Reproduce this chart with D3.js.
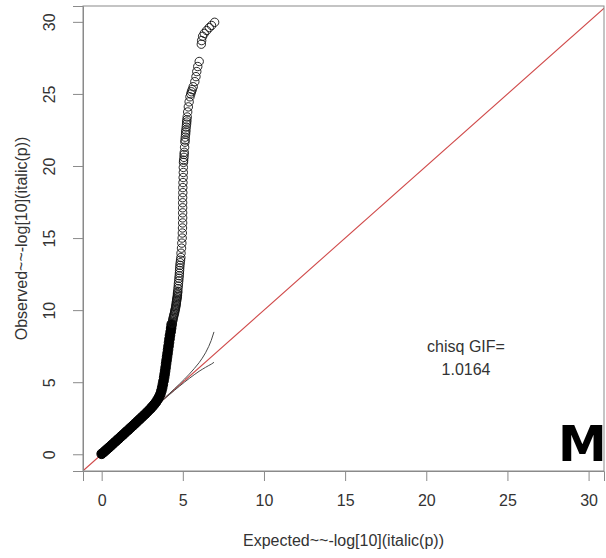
<!DOCTYPE html>
<html><head><meta charset="utf-8">
<script src="https://cdn.jsdelivr.net/npm/d3@7/dist/d3.min.js"></script>
<style>html,body{margin:0;padding:0;background:#fff;}svg{display:block;}</style>
</head><body>
<svg id="chart" width="606" height="558"></svg>
<script>
// ---------- data ----------
const xTicks = [0, 5, 10, 15, 20, 25, 30];
const yTicks = [0, 5, 10, 15, 20, 25, 30];
const xTitle = "Expected~~-log[10](italic(p))";
const yTitle = "Observed~~-log[10](italic(p))";
const gifLabel = ["chisq GIF=", "1.0164"];
const panelLetter = "M";

// dense bulk of points (overlapping circles rendered as a solid band)
const bulkExp = [0.00,0.15,0.30,0.45,0.60,0.75,0.90,1.05,1.20,1.35,1.50,1.65,1.80,1.95,2.10,2.25,2.40,2.55,2.70,2.85,3.00,
  3.12,3.24,3.35,3.45,3.54,3.62,3.68,3.73,3.77,3.81,3.85,3.88,3.91,3.94,3.97,4.00,4.03,4.06,4.09,4.12,4.15,4.18,4.21,4.25,4.28,4.31];
const bulkObs = [0.03,0.17,0.32,0.47,0.62,0.78,0.93,1.08,1.24,1.39,1.55,1.70,1.86,2.01,2.17,2.33,2.49,2.65,2.81,2.98,3.15,
  3.30,3.46,3.62,3.80,3.98,4.18,4.40,4.62,4.85,5.08,5.32,5.55,5.78,6.02,6.28,6.52,6.76,7.00,7.25,7.50,7.75,8.00,8.25,8.50,8.75,9.00];

// tail points (open circles)
const tailExp = [4.33,4.35,4.37,4.39,4.40,4.42,4.44,4.46,4.48,4.50,4.51,4.53,4.55,4.56,4.58,4.59,4.60,4.61,4.62,4.63,4.65,4.66,4.67,4.67,4.68,4.69,4.70,
  4.72,4.73,4.75,4.76,4.78,4.79,4.80,4.81,4.82,4.84,4.86,4.88,
  4.89,4.92,4.94,4.96,4.97,4.98,4.99,4.99,4.99,4.99,4.99,4.99,5.00,5.00,5.01,5.02,5.03,5.03,5.04,5.05,5.07,5.08,5.09,5.11,5.13,5.14,5.15,5.17,5.18,5.19,5.21,5.23,5.24,5.25,5.27,5.30,5.34,5.39,5.44,5.49,5.53,5.58,5.64,5.74,5.81,5.86,5.92,6.01,
  6.14,6.16,6.22,6.32,6.47,6.63,6.77,6.96];
const tailObs = [9.08,9.15,9.24,9.33,9.42,9.51,9.60,9.69,9.78,9.87,9.96,10.05,10.14,10.23,10.32,10.41,10.50,10.59,10.68,10.77,10.86,10.95,11.04,11.13,11.22,11.31,11.49,
  11.67,11.85,12.03,12.21,12.39,12.57,12.75,12.93,13.11,13.29,13.47,13.65,
  13.95,14.30,14.65,15.00,15.35,15.70,16.05,16.40,16.75,17.10,17.45,17.80,18.15,18.50,18.85,19.20,19.55,19.90,20.25,20.40,20.60,20.80,20.95,21.30,21.65,21.80,22.00,22.20,22.35,22.50,22.70,22.90,23.05,23.20,23.40,23.75,24.10,24.45,24.80,25.00,25.15,25.30,25.50,25.85,26.20,26.55,26.90,27.25,
  28.45,28.70,29.00,29.20,29.40,29.60,29.75,29.97];

// 95% band lines
const ciExp   = [3.30,3.60,3.90,4.20,4.50,4.80,5.10,5.40,5.70,6.00,6.20,6.40,6.60,6.75,6.92];
const ciUpper = [3.313,3.619,3.927,4.239,4.556,4.877,5.210,5.560,5.940,6.350,6.670,7.040,7.490,7.900,8.490];
const ciLower = [3.287,3.582,3.874,4.164,4.450,4.729,5.002,5.265,5.517,5.755,5.895,6.030,6.160,6.250,6.380];

// ---------- drawing ----------
const svg = d3.select("#chart");
const pL = 83, pR = 604, pT = 6, pB = 471;
const x = d3.scaleLinear().domain([-1.15, 30.95]).range([pL, pR]);
const y = d3.scaleLinear().domain([-1.16, 31.1]).range([pB, pT]);
const font = "'Liberation Sans', Arial, Helvetica, sans-serif";

svg.append("defs").append("clipPath").attr("id", "clip")
  .append("rect").attr("x", pL).attr("y", pT).attr("width", pR - pL).attr("height", pB - pT);

const plot = svg.append("g").attr("clip-path", "url(#clip)");

// identity line
plot.append("line")
  .attr("x1", x(-2)).attr("y1", y(-2)).attr("x2", x(33)).attr("y2", y(33))
  .attr("stroke", "#d04a4a").attr("stroke-width", 1.1);

// CI lines
const ciLine = (arr) => d3.line().x((d, i) => x(ciExp[i])).y((d, i) => y(arr[i]))(arr);
plot.append("path").attr("d", ciLine(ciUpper)).attr("fill", "none").attr("stroke", "#4a4a4a").attr("stroke-width", 1);
plot.append("path").attr("d", ciLine(ciLower)).attr("fill", "none").attr("stroke", "#4a4a4a").attr("stroke-width", 1);

// dense bulk
plot.append("g").selectAll("circle").data(bulkExp).join("circle")
  .attr("cx", (d) => x(d)).attr("cy", (d, i) => y(bulkObs[i])).attr("r", 4.8)
  .attr("fill", "#000").attr("stroke", "#000").attr("stroke-width", 1);

// tail circles
plot.append("g").selectAll("circle").data(tailExp).join("circle")
  .attr("cx", (d) => x(d)).attr("cy", (d, i) => y(tailObs[i])).attr("r", 4.2)
  .attr("fill", "none").attr("stroke", "#111").attr("stroke-width", 0.9);

// box
svg.append("rect").attr("x", pL).attr("y", pT).attr("width", pR - pL).attr("height", pB - pT)
  .attr("fill", "none").attr("stroke", "#8a8a8a").attr("stroke-width", 1);

// x axis
const xAxis = svg.append("g").attr("transform", `translate(0,${pB})`)
  .call(d3.axisBottom(x).tickValues(xTicks).tickSize(10).tickPadding(24).tickFormat(d3.format("d")));
xAxis.select(".domain").attr("stroke", "#8a8a8a");
xAxis.selectAll(".tick line").attr("stroke", "#8a8a8a");
xAxis.selectAll(".tick text").attr("font-family", font).attr("font-size", 16).attr("fill", "#333")
  .attr("dy", null).attr("y", 35);

// y axis
const yAxis = svg.append("g").attr("transform", `translate(${pL},0)`)
  .call(d3.axisLeft(y).tickValues(yTicks).tickSize(10).tickFormat(d3.format("d")));
yAxis.select(".domain").attr("stroke", "#8a8a8a");
yAxis.selectAll(".tick line").attr("stroke", "#8a8a8a");
yAxis.selectAll(".tick text").attr("font-family", font).attr("font-size", 16).attr("fill", "#333")
  .attr("x", null).attr("dy", null).attr("text-anchor", "middle")
  .attr("transform", "translate(-28,0) rotate(-90)");

// titles
svg.append("text").attr("x", (pL + pR) / 2).attr("y", 546).attr("text-anchor", "middle")
  .attr("font-family", font).attr("font-size", 16).attr("fill", "#333").text(xTitle);
svg.append("text").attr("transform", `translate(27,${(pT + pB) / 2}) rotate(-90)`).attr("text-anchor", "middle")
  .attr("font-family", font).attr("font-size", 16).attr("fill", "#333").text(yTitle);

// GIF annotation
svg.append("text").attr("x", 466).attr("y", 352).attr("text-anchor", "middle")
  .attr("font-family", font).attr("font-size", 16).attr("fill", "#333").text(gifLabel[0]);
svg.append("text").attr("x", 466).attr("y", 374.5).attr("text-anchor", "middle")
  .attr("font-family", font).attr("font-size", 16).attr("fill", "#333").text(gifLabel[1]);

// panel letter
svg.append("text").attr("x", 558).attr("y", 461).attr("text-anchor", "start")
  .attr("font-family", "'DejaVu Sans', sans-serif").attr("font-weight", "bold").attr("font-size", 49)
  .attr("fill", "#000").text(panelLetter);
</script>
</body></html>
